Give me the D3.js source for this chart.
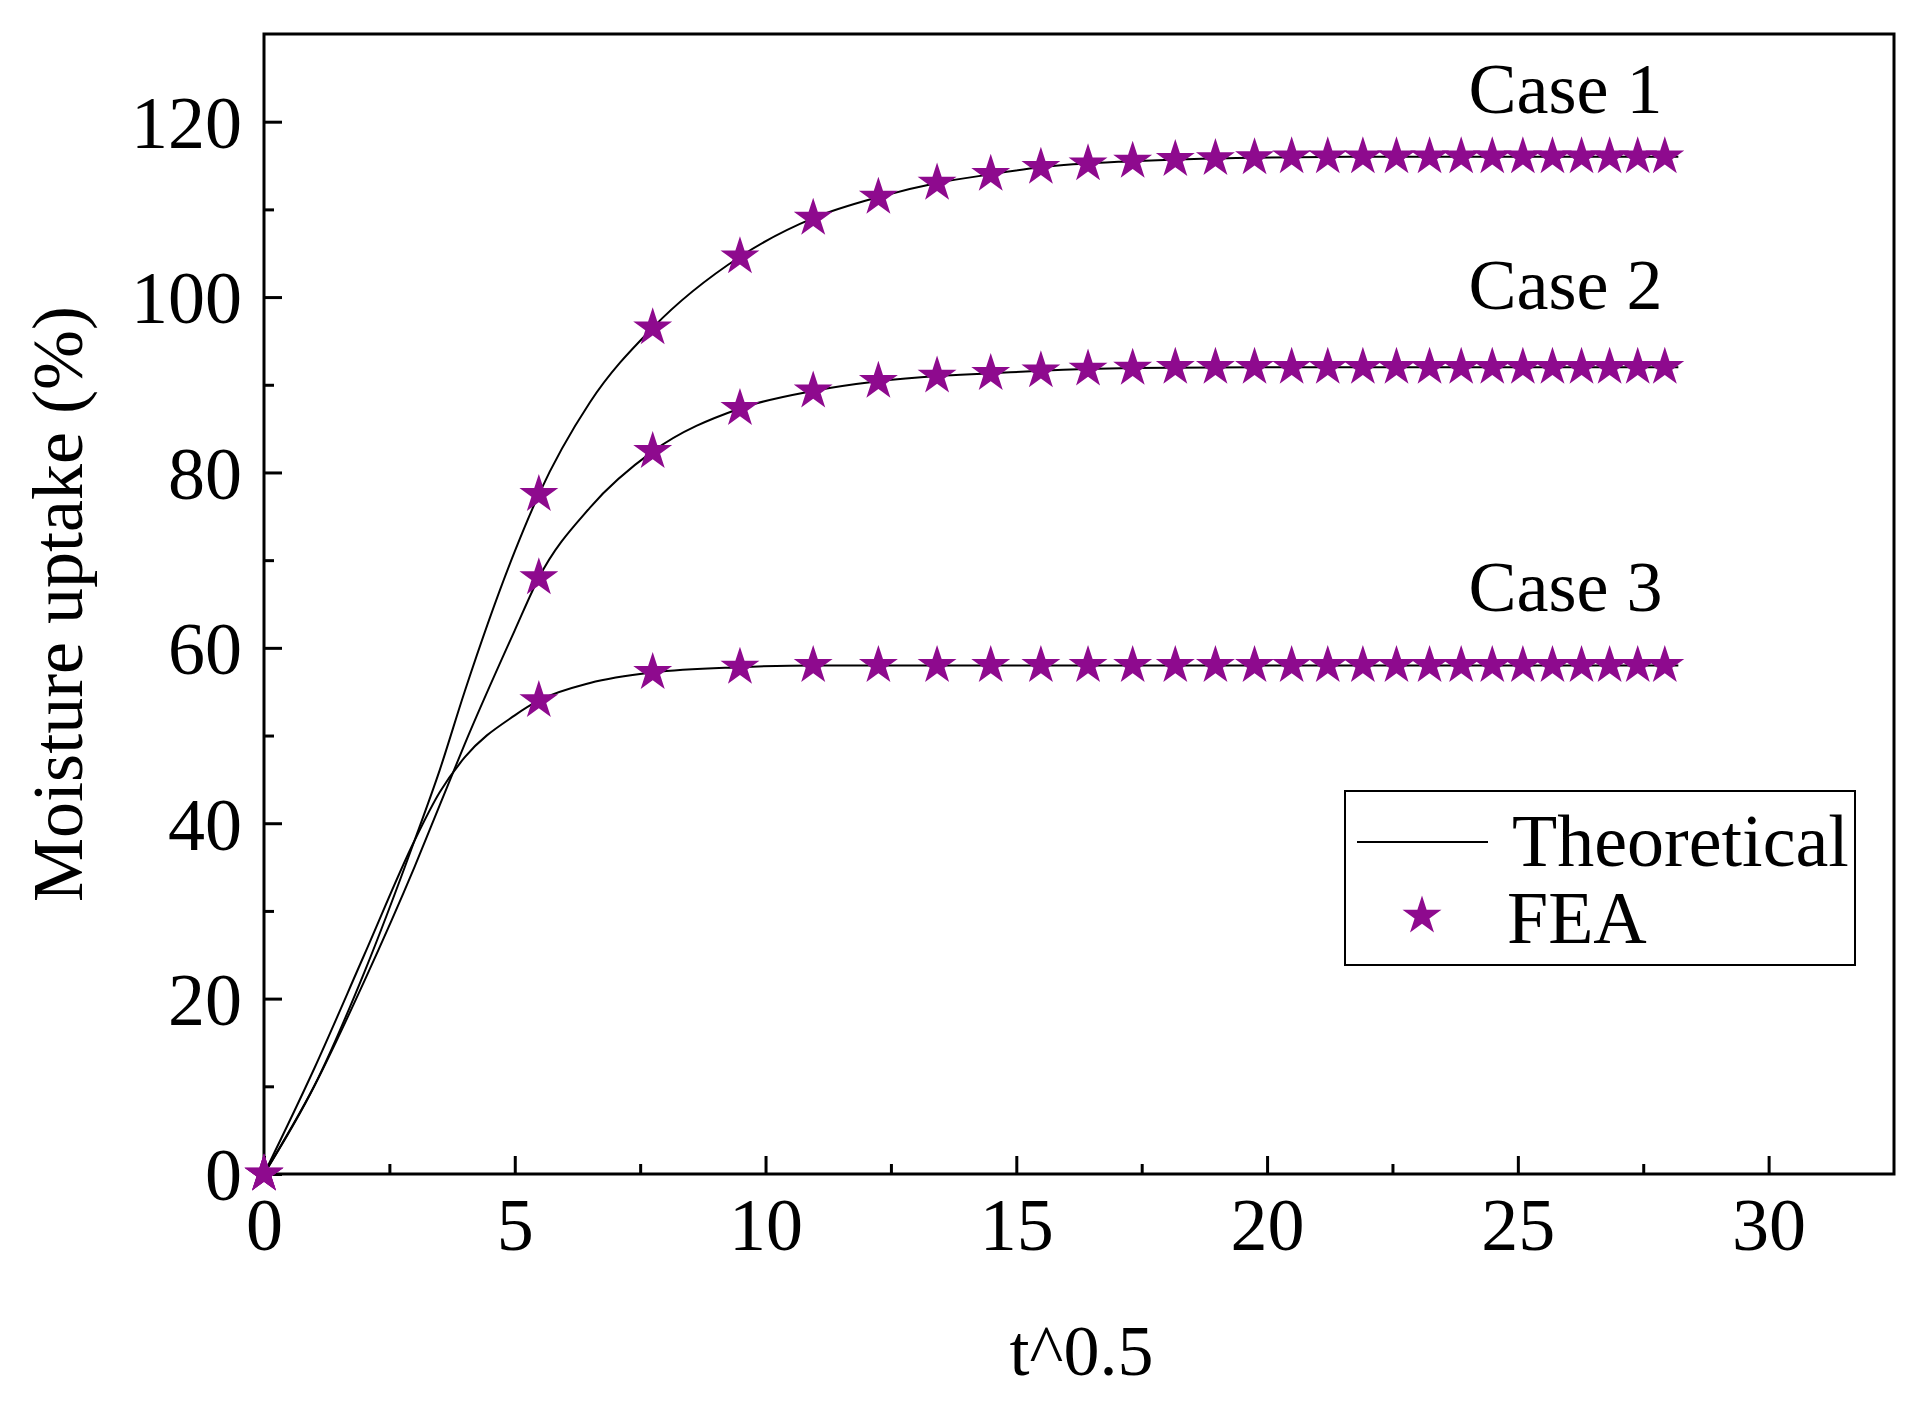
<!DOCTYPE html>
<html>
<head>
<meta charset="utf-8">
<script src="https://cdn.jsdelivr.net/npm/d3@7"></script>
<style>
  body { margin: 0; background: white; }
  text { font-family: "Liberation Serif", "Times New Roman", serif; }
</style>
</head>
<body>
<div class="chart"></div>
<script>
// FEA sample points (t^0.5)
const feaX = [0, 5.48, 7.75, 9.49, 10.95, 12.25, 13.42, 14.49, 15.49, 16.43, 17.32, 18.17, 18.97,
    19.75, 20.49, 21.21, 21.91, 22.58, 23.24, 23.87, 24.49, 25.1, 25.69, 26.27, 26.83, 27.39, 27.93];
const fea1 = [0, 77.5, 96.5, 104.6, 109, 111.4, 113, 114, 114.8, 115.2, 115.5, 115.7, 115.8,
    115.9, 116, 116, 116, 116, 116, 116, 116, 116, 116, 116, 116, 116, 116];
const fea2 = [0, 68, 82.4, 87.3, 89.3, 90.4, 91, 91.3, 91.6, 91.8, 91.9, 92, 92,
    92, 92, 92, 92, 92, 92, 92, 92, 92, 92, 92, 92, 92, 92];
const fea3 = [0, 54, 57.2, 57.8, 58, 58, 58, 58, 58, 58, 58, 58, 58,
    58, 58, 58, 58, 58, 58, 58, 58, 58, 58, 58, 58, 58, 58];

// theoretical curves
const thX = [0, 1, 2, 3, 3.5, 4, 5, 5.48, 6.5, 7.75, 9.49, 10.95, 12.25, 13.42, 14.49, 15.49, 17.32, 19.75, 22, 25, 28.2];
const th1 = [0, 10, 23, 38, 46, 55, 71, 77.5, 88, 96.5, 104.6, 109, 111.4, 113, 114, 114.8, 115.5, 115.9, 116, 116, 116];
const th2 = [0, 10, 22, 35, 42, 49, 62, 68, 76, 82.4, 87.3, 89.3, 90.4, 91, 91.3, 91.6, 91.9, 92, 92, 92, 92];
const th3 = [0, 12, 25, 38, 43.5, 47.5, 52.3, 54, 56, 57.2, 57.8, 58, 58, 58, 58, 58, 58, 58, 58, 58, 58];

const caseLabels = ['Case 1', 'Case 2', 'Case 3'];
const caseLabelY = [121, 98.6, 64.2];

const W = 1923, H = 1412;
const margin = ({top: 34, bottom: 1412 - 1174, left: 264, right: 1923 - 1894});
const width = W - margin.left - margin.right;
const height = H - margin.top - margin.bottom;

const svg = d3.select('.chart').append('svg')
    .attr('width', W).attr('height', H);
const g = svg.append('g').attr('transform', `translate(${margin.left},${margin.top})`);

const x = d3.scaleLinear().domain([0, 32.5]).range([0, width]);
const y = d3.scaleLinear().domain([0, 130]).range([height, 0]);

const purple = '#8e0a8e';

// axes with inward ticks
const xAxis = g.append('g').attr('transform', `translate(0,${height})`)
    .call(d3.axisBottom(x).tickValues(d3.range(0, 31, 5)).tickSize(-18).tickPadding(20).tickFormat(d3.format('d')));
g.append('g').attr('transform', `translate(0,${height})`)
    .call(d3.axisBottom(x).tickValues(d3.range(2.5, 31, 5)).tickSize(-10).tickFormat(''))
    .call(a => a.select('.domain').remove());
const yAxis = g.append('g')
    .call(d3.axisLeft(y).tickValues(d3.range(0, 121, 20)).tickSize(-18).tickPadding(22));
g.append('g')
    .call(d3.axisLeft(y).tickValues(d3.range(10, 121, 20)).tickSize(-10).tickFormat(''))
    .call(a => a.select('.domain').remove());
g.selectAll('.tick line').attr('stroke-width', 3);
g.selectAll('.domain').remove();
g.selectAll('.tick text').attr('font-size', 74).attr('fill', 'black');
yAxis.selectAll('.tick text').attr('dy', '0.35em');
xAxis.selectAll('.tick text').attr('dy', '0.75em');

// frame
g.append('rect').attr('width', width).attr('height', height)
    .attr('fill', 'none').attr('stroke', 'black').attr('stroke-width', 3);

// lines
const line = d3.line().curve(d3.curveMonotoneX)
    .x((d, i) => x(thX[i])).y(d => y(d));
[th1, th2, th3].forEach(s => {
    g.append('path').datum(s).attr('d', line)
        .attr('fill', 'none').attr('stroke', 'black').attr('stroke-width', 2);
});

// stars
const star = d3.symbol().type(d3.symbolStar).size(470);
[fea1, fea2, fea3].forEach(s => {
    g.selectAll(null).data(s).enter().append('path')
        .attr('d', star)
        .attr('transform', (d, i) => `translate(${x(feaX[i])},${y(d)})`)
        .attr('fill', purple);
});

// case labels
g.selectAll('.case').data(caseLabels).enter().append('text')
    .attr('class', 'case')
    .attr('x', x(25.95)).attr('y', (d, i) => y(caseLabelY[i]))
    .attr('text-anchor', 'middle').attr('font-size', 72)
    .text(d => d);

// axis titles
svg.append('text').attr('x', margin.left + x(16.3)).attr('y', 1375)
    .attr('text-anchor', 'middle').attr('font-size', 72).text('t^0.5');
svg.append('text')
    .attr('transform', `translate(82,${margin.top + y(65)}) rotate(-90)`)
    .attr('text-anchor', 'middle').attr('font-size', 72).text('Moisture uptake (%)');

// legend
const lg = svg.append('g').attr('transform', 'translate(1345,791)');
lg.append('rect').attr('width', 510).attr('height', 174)
    .attr('fill', 'white').attr('stroke', 'black').attr('stroke-width', 2);
lg.append('line').attr('x1', 12).attr('x2', 143).attr('y1', 51).attr('y2', 51)
    .attr('stroke', 'black').attr('stroke-width', 2);
lg.append('text').attr('x', 167).attr('y', 75).attr('font-size', 74).text('Theoretical');
lg.append('path').attr('d', star).attr('transform', 'translate(77,160) translate(0,-35)')
    .attr('fill', purple);
lg.append('text').attr('x', 162).attr('y', 152).attr('font-size', 74).text('FEA');
</script>
</body>
</html>
